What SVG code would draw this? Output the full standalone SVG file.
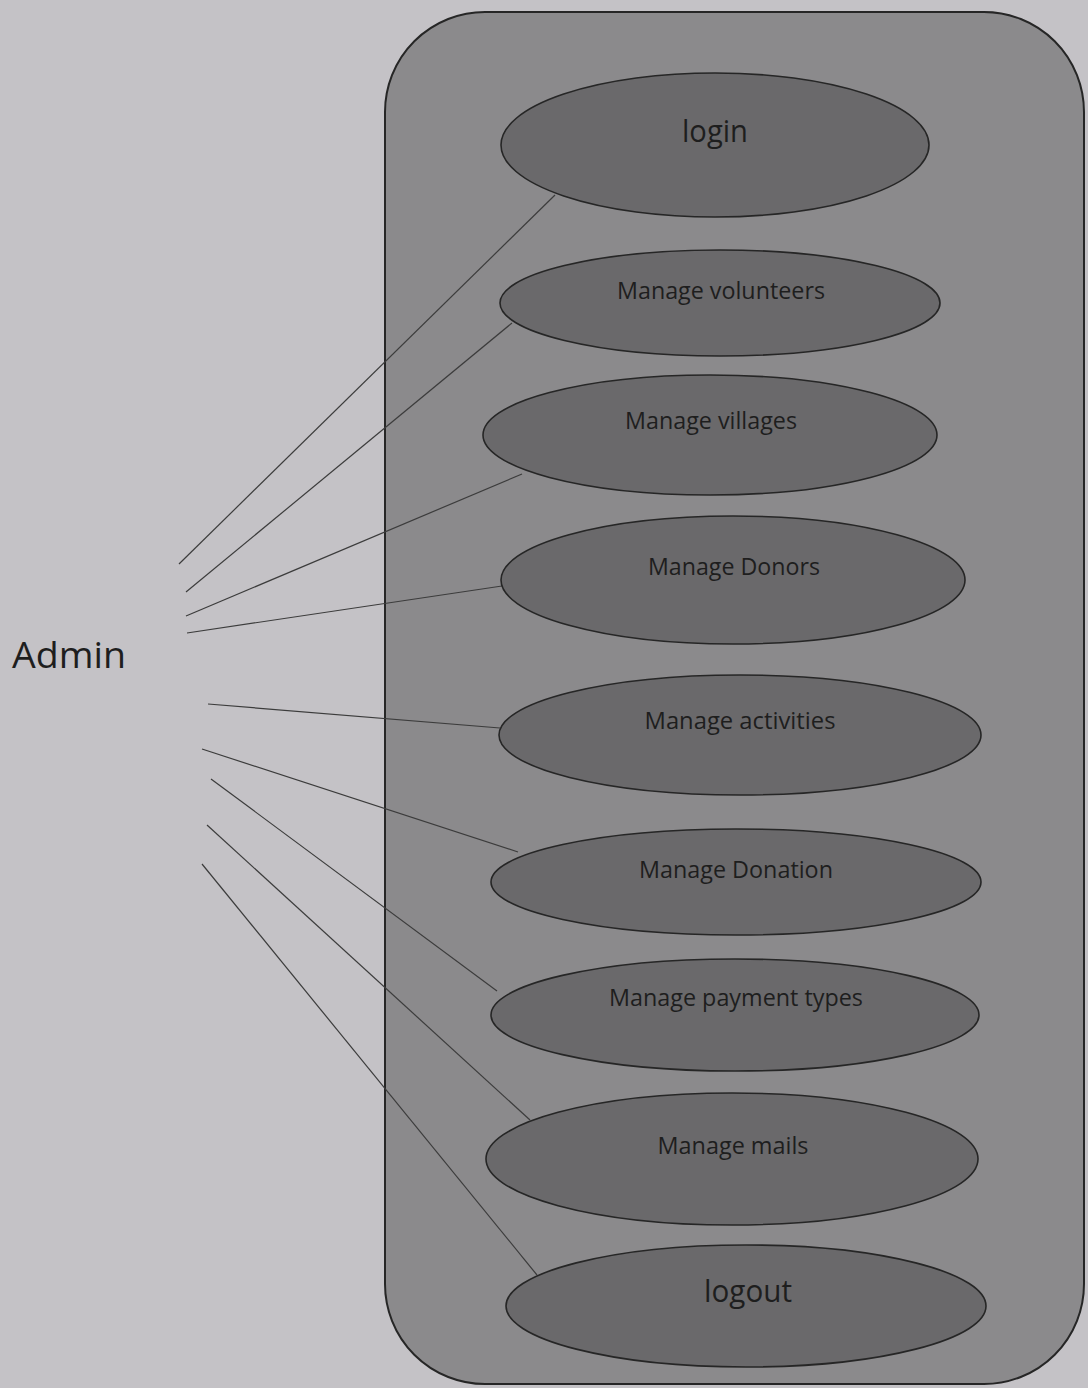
<svg xmlns="http://www.w3.org/2000/svg" width="1088" height="1388" viewBox="0 0 1088 1388">
  <style>
    .uc { fill: #6a696b; stroke: #262626; stroke-width: 1.6; }
    .lbl { font-family: "Open Sans", "Liberation Sans", sans-serif; fill: #1e1e1e; text-anchor: middle; }
    .sm { font-size: 23.5px; }
    .lg { font-size: 31px; }
    .assoc line { stroke: #3c3c3c; stroke-width: 1.2; }
  </style>

  <!-- page -->
  <rect x="0" y="0" width="1088" height="1388" fill="#c4c2c6"/>

  <!-- system boundary -->
  <g id="system">
    <rect x="385" y="12" width="699" height="1372" rx="100" ry="100" fill="#8b8a8c" stroke="#262626" stroke-width="2"/>
  </g>

  <!-- actor -->
  <g id="admin">
    <text class="lbl" x="69" y="668" font-size="36" textLength="114" lengthAdjust="spacingAndGlyphs">Admin</text>
  </g>

  <!-- associations between the actor and its use cases -->
  <g id="connectors" class="assoc">
    <line x1="179" y1="564" x2="555" y2="195"/>
    <line x1="186" y1="592" x2="512" y2="323"/>
    <line x1="186" y1="616" x2="522" y2="474"/>
    <line x1="187" y1="633" x2="502" y2="586"/>
    <line x1="208" y1="704" x2="500" y2="728"/>
    <line x1="202" y1="749" x2="518" y2="852"/>
    <line x1="211" y1="779" x2="497" y2="991"/>
    <line x1="207" y1="825" x2="530" y2="1120"/>
    <line x1="202" y1="864" x2="537" y2="1275"/>
  </g>

  <!-- use cases -->
  <g id="uc-login">
    <ellipse class="uc" cx="715" cy="145" rx="214" ry="72"/>
    <text class="lbl lg" x="715" y="142" textLength="66" lengthAdjust="spacingAndGlyphs">login</text>
  </g>
  <g id="uc-volunteers">
    <ellipse class="uc" cx="720" cy="303" rx="220" ry="53"/>
    <text class="lbl sm" x="721" y="299" textLength="208" lengthAdjust="spacingAndGlyphs">Manage volunteers</text>
  </g>
  <g id="uc-villages">
    <ellipse class="uc" cx="710" cy="435" rx="227" ry="60"/>
    <text class="lbl sm" x="711" y="429" textLength="172" lengthAdjust="spacingAndGlyphs">Manage villages</text>
  </g>
  <g id="uc-donors">
    <ellipse class="uc" cx="733" cy="580" rx="232" ry="64"/>
    <text class="lbl sm" x="734" y="575" textLength="172" lengthAdjust="spacingAndGlyphs">Manage Donors</text>
  </g>
  <g id="uc-activities">
    <ellipse class="uc" cx="740" cy="735" rx="241" ry="60"/>
    <text class="lbl sm" x="740" y="729" textLength="191" lengthAdjust="spacingAndGlyphs">Manage activities</text>
  </g>
  <g id="uc-donation">
    <ellipse class="uc" cx="736" cy="882" rx="245" ry="53"/>
    <text class="lbl sm" x="736" y="878" textLength="194" lengthAdjust="spacingAndGlyphs">Manage Donation</text>
  </g>
  <g id="uc-payment">
    <ellipse class="uc" cx="735" cy="1015" rx="244" ry="56"/>
    <text class="lbl sm" x="736" y="1006" textLength="254" lengthAdjust="spacingAndGlyphs">Manage payment types</text>
  </g>
  <g id="uc-mails">
    <ellipse class="uc" cx="732" cy="1159" rx="246" ry="66"/>
    <text class="lbl sm" x="733" y="1154" textLength="151" lengthAdjust="spacingAndGlyphs">Manage mails</text>
  </g>
  <g id="uc-logout">
    <ellipse class="uc" cx="746" cy="1306" rx="240" ry="61"/>
    <text class="lbl lg" x="748" y="1302" textLength="88" lengthAdjust="spacingAndGlyphs">logout</text>
  </g>
</svg>
